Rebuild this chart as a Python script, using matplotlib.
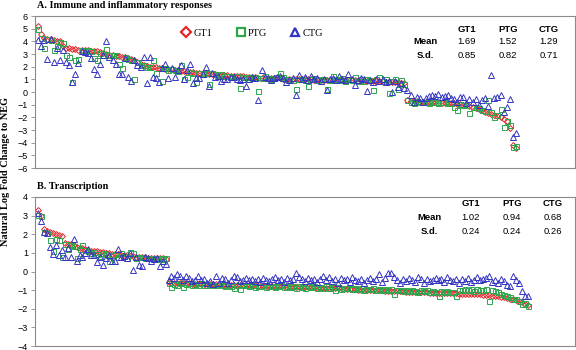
import matplotlib
matplotlib.use("Agg")
import matplotlib.pyplot as plt
from matplotlib.lines import Line2D
import numpy as np

# ---- panel A: immune and inflammatory responses ----
gt1_a = [5.20, 4.55, 4.30, 4.20, 4.15, 4.10, 4.05, 4.00, 3.62, 3.50,
         3.45, 3.40, 3.38, 3.35, 3.32, 3.30, 3.28, 3.25, 3.22, 3.20,
         3.15, 3.10, 3.02, 2.95, 2.92, 2.88, 2.85, 2.80, 2.75, 2.70,
         2.60, 2.50, 2.35, 2.20, 2.10, 2.02, 1.98, 1.95, 1.94, 1.92,
         1.90, 1.85, 1.82, 1.80, 1.76, 1.70, 1.65, 1.62, 1.60, 1.57,
         1.55, 1.52, 1.50, 1.48, 1.46, 1.44, 1.42, 1.40, 1.38, 1.36,
         1.34, 1.32, 1.30, 1.29, 1.27, 1.25, 1.23, 1.21, 1.19, 1.17,
         1.15, 1.14, 1.13, 1.12, 1.11, 1.10, 1.09, 1.08, 1.07, 1.06,
         1.05, 1.04, 1.03, 1.02, 1.01, 1.00, 1.00, 0.99, 0.99, 0.98,
         0.98, 0.97, 0.97, 0.96, 0.96, 0.95, 0.95, 0.94, 0.94, 0.93,
         0.92, 0.92, 0.91, 0.90, 0.90, 0.89, 0.88, 0.87, 0.86, 0.85,
         0.84, 0.83, 0.82, 0.81, 0.80, 0.79, 0.78, 0.75, 0.70,
         -0.65, -0.70, -0.72, -0.74, -0.76, -0.78, -0.79, -0.80, -0.81, -0.82,
         -0.83, -0.84, -0.85, -0.86, -0.88, -0.90, -0.93, -0.96, -1.00, -1.05,
         -1.10, -1.15, -1.25, -1.35, -1.45, -1.55, -1.65, -1.72, -1.80, -1.90,
         -2.00, -2.15, -2.30, -2.85, -4.20, -4.40]

ptg_a = [5.00, 4.30, 3.45, 4.20, 4.10, 3.30, 3.60, 3.95, 3.90, 2.90,
         2.80, 0.80, 2.50, 2.60, 3.30, 3.25, 3.30, 3.20, 2.70, 2.50,
         3.05, 2.90, 3.40, 2.95, 2.90, 2.90, 2.20, 1.90, 2.80, 2.60,
         2.50, 1.00, 2.40, 2.10, 2.15, 2.00, 1.95, 2.50, 1.50, 1.90,
         0.90, 1.90, 1.75, 1.80, 1.70, 1.65, 2.10, 1.00, 1.20, 1.60,
         1.50, 0.80, 1.50, 1.45, 1.50, 0.60, 1.50, 1.40, 1.35, 1.40,
         1.30, 1.25, 1.20, 1.30, 1.25, 0.30, 1.20, 1.15, 1.20, 1.10,
         1.15, 0.10, 1.10, 1.30, 1.10, 1.05, 1.10, 1.20, 1.50, 1.20,
         1.05, 1.00, 0.95, 0.20, 1.00, 1.05, 0.95, 0.50, 1.00, 1.10,
         0.95, 1.00, 1.05, 0.20, 0.95, 1.30, 1.00, 0.95, 1.10, 0.90,
         1.00, 0.95, 1.15, 0.90, 1.05, 0.85, 1.00, 0.95, 0.15, 1.00,
         1.20, 0.90, 1.05, -0.05, 0.90, 1.00, 0.20, 0.95, 0.60,
         -0.60, -0.75, -0.90, -0.70, -0.75, -0.80, -0.78, -0.90, -0.80, -0.82,
         -0.85, -0.80, -0.78, -0.90, -0.85, -1.16, -1.42, -0.95, -1.00, -1.05,
         -1.68, -1.15, -1.20, -1.30, -1.40, -1.50, -0.63, -1.60, -1.95, -1.80,
         -1.37, -2.74, -2.30, -2.60, -4.35, -4.25]

ctg_a = [4.10, 3.60, 4.10, 2.60, 4.15, 2.40, 3.50, 2.50, 3.30, 2.40,
         2.10, 0.80, 1.40, 2.30, 3.20, 3.15, 3.10, 2.70, 1.80, 1.40,
         2.20, 2.90, 4.00, 2.80, 2.50, 2.20, 1.40, 1.40, 2.70, 1.20,
         0.85, 2.50, 2.10, 2.00, 2.80, 0.75, 2.80, 1.20, 1.10, 0.80,
         1.90, 2.20, 1.10, 1.90, 1.20, 1.70, 2.10, 1.00, 1.70, 2.20,
         0.70, 1.10, 1.10, 1.45, 2.00, 0.50, 1.50, 1.20, 1.30, 0.90,
         1.00, 1.05, 1.20, 1.20, 1.00, 0.95, 1.00, 0.50, 1.00, 1.15,
         1.10, -0.60, 1.70, 1.20, 1.10, 0.95, 1.10, 1.20, 1.30, 1.10,
         0.80, 0.95, 1.10, -0.24, 1.34, 1.05, 1.20, 0.95, 1.26, 1.00,
         1.10, 0.90, 1.05, 0.16, 1.00, 1.10, 0.95, 1.26, 1.05, 0.95,
         1.42, 1.00, 0.55, 0.95, 1.10, 1.03, 0.08, 0.95, 0.80, 1.00,
         0.90, 1.05, 0.80, 0.90, 0.00, 0.85, 0.40, 0.70, 0.30,
         0.16, -0.24, -0.77, -0.40, -0.50, -0.77, -0.45, -0.32, -0.24, -0.32,
         -0.18, -0.37, -0.32, -0.24, -0.50, -0.58, -0.77, -0.40, -0.42, -0.90,
         -0.55, -0.77, -0.58, -1.03, -0.63, -0.50, -1.10, 1.34, -0.50, -0.42,
         -0.24, -1.55, -1.16, -0.58, -3.55, -3.24]

# ---- panel B: transcription ----
gt1_b = [3.30, 3.00, 2.30, 2.20, 2.12, 2.05, 2.00, 1.95, 1.90, 1.55,
         1.50, 1.45, 1.40, 1.32, 1.28, 1.25, 1.20, 1.16, 1.12, 1.10,
         1.08, 1.05, 1.03, 1.00, 0.98, 0.96, 0.94, 0.92, 0.90, 0.88,
         0.86, 0.84, 0.82, 0.80, 0.78, 0.77, 0.76, 0.75, 0.74, 0.73,
         0.72, 0.71, 0.70, 0.69,
         -0.58, -0.60, -0.61, -0.62, -0.63, -0.63, -0.64, -0.64, -0.65, -0.65,
         -0.66, -0.66, -0.67, -0.67, -0.68, -0.68, -0.69, -0.69, -0.70, -0.70,
         -0.71, -0.71, -0.72, -0.72, -0.73, -0.73, -0.74, -0.74, -0.75, -0.75,
         -0.76, -0.76, -0.77, -0.77, -0.78, -0.78, -0.79, -0.79, -0.80, -0.80,
         -0.81, -0.81, -0.82, -0.82, -0.83, -0.83, -0.84, -0.84, -0.85, -0.85,
         -0.86, -0.86, -0.87, -0.87, -0.88, -0.88, -0.89, -0.90, -0.91, -0.92,
         -0.93, -0.94, -0.95, -0.96, -0.97, -0.97, -0.98, -0.98, -0.99, -0.99,
         -1.00, -1.01, -1.02, -1.03, -1.04, -1.05, -1.06, -1.06, -1.07, -1.07,
         -1.08, -1.08, -1.09, -1.09, -1.10, -1.10, -1.11, -1.12, -1.13, -1.14,
         -1.15, -1.15, -1.16, -1.16, -1.17, -1.17, -1.18, -1.18, -1.19, -1.19,
         -1.20, -1.20, -1.21, -1.21, -1.22, -1.23, -1.24, -1.25, -1.27, -1.29,
         -1.31, -1.33, -1.36, -1.39, -1.42, -1.46, -1.50, -1.55, -1.60, -1.66,
         -1.72, -1.78]

ptg_b = [3.05, 3.00, 2.10, 2.05, 1.70, 1.10, 1.75, 1.70, 0.80, 1.50,
         1.20, 1.40, 1.35, 0.70, 1.20, 1.40, 1.15, 1.10, 1.00, 1.05,
         0.95, 0.85, 1.00, 0.95, 0.55, 0.90, 0.95, 0.80, 1.00, 0.85,
         0.75, 1.05, 1.00, 0.75, 0.80, 0.80, 0.70, 0.75, 0.72, 0.75,
         0.68, 0.70, 0.65, 0.75,
         -0.60, -0.83, -0.65, -0.70, -0.62, -0.83, -0.66, -0.60, -0.70, -0.68,
         -0.72, -0.64, -0.70, -0.75, -0.66, -0.70, -0.74, -0.68, -0.72, -0.78,
         -0.70, -0.76, -0.88, -0.72, -0.94, -0.74, -0.70, -0.78, -0.72, -0.83,
         -0.76, -0.80, -0.74, -0.82, -0.78, -0.76, -0.84, -0.80, -0.75, -0.82,
         -0.78, -0.84, -0.80, -0.86, -0.76, -0.82, -0.88, -0.80, -0.84, -0.78,
         -0.86, -0.82, -0.88, -0.80, -0.90, -0.85, -1.00, -0.84, -0.92, -0.88,
         -0.90, -0.86, -0.96, -0.90, -0.94, -0.88, -0.98, -0.92, -0.96, -0.90,
         -0.98, -0.94, -1.00, -0.96, -1.02, -0.95, -1.19, -1.00, -0.98, -1.04,
         -1.00, -1.06, -0.98, -1.04, -1.08, -1.02, -1.06, -1.00, -1.10, -1.04,
         -1.08, -1.30, -1.06, -1.10, -1.04, -1.12, -1.08, -1.33, -1.02, -0.98,
         -0.96, -1.00, -0.94, -1.05, -0.96, -0.98, -1.02, -0.95, -1.57, -1.00,
         -1.05, -1.10, -1.20, -1.25, -1.30, -1.35, -1.45, -1.50, -1.60, -1.73,
         -1.70, -1.84]

ctg_b = [3.15, 2.70, 2.10, 2.05, 1.30, 0.95, 1.40, 0.90, 1.15, 0.80,
         1.25, 0.80, 1.75, 0.55, 0.90, 0.80, 1.00, 1.20, 0.90, 0.90,
         0.50, 0.80, 0.35, 0.75, 0.90, 0.55, 0.55, 1.20, 0.80, 0.85,
         0.75, 1.00, 0.10, 0.80, 0.35, 0.30, 0.80, 0.70, 0.55, 0.65,
         0.70, 0.30, 0.55, 0.40,
         -0.43, -0.25, -0.35, -0.16, -0.25, -0.43, -0.22, -0.34, -0.52, -0.43,
         -0.25, -0.43, -0.40, -0.60, -0.52, -0.65, -0.22, -0.60, -0.34, -0.40,
         -0.60, -0.43, -0.25, -0.30, -0.52, -0.43, -0.34, -0.45, -0.38, -0.50,
         -0.40, -0.55, -0.35, -0.45, -0.50, -0.42, -0.30, -0.48, -0.40, -0.55,
         -0.34, -0.45, -0.38, -0.10, -0.30, -0.42, -0.50, -0.36, -0.44, -0.40,
         -0.55, -0.38, -0.22, -0.46, -0.30, -0.50, -0.42, -0.62, -0.35, -0.48,
         -0.40, -0.55, -0.28, -0.45, -0.52, -0.38, -0.60, -0.44, -0.36, -0.50,
         -0.42, -0.12, -0.55, -0.35, -0.08, -0.08, -0.30, -0.48, -0.62, -0.40,
         -0.50, -0.36, -0.45, -0.55, -0.32, -0.42, -0.60, -0.38, -0.50, -0.44,
         -0.35, -0.48, -0.40, -0.55, -0.30, -0.46, -0.52, -0.38, -0.60, -0.42,
         -0.50, -0.36, -0.55, -0.45, -0.32, -0.48, -0.40, -0.35, -0.25, -0.55,
         -0.45, -0.60, -0.40, -0.50, -0.70, -0.80, -0.25, -0.45, -0.60, -1.06,
         -1.30, -1.33]

series = ["GT1", "PTG", "CTG"]
stats_a = {"Mean": ["1.69", "1.52", "1.29"], "S.d.": ["0.85", "0.82", "0.71"]}
stats_b = {"Mean": ["1.02", "0.94", "0.68"], "S.d.": ["0.24", "0.24", "0.26"]}

RED = "#e2282a"
GREEN = "#2ea64e"
BLUE = "#3434c4"
GREY = "#8a8a8a"
SERIF = "Liberation Serif"
SANS = "Liberation Sans"

W, H = 576, 350
fig = plt.figure(figsize=(W / 100, H / 100), dpi=100)


def px_ax(l, t, r, b):
    return fig.add_axes([l / W, 1 - b / H, (r - l) / W, (b - t) / H])


def draw_panel(ax, gt1, ptg, ctg, ylim, xmax):
    x = np.arange(1, len(gt1) + 1)
    ax.plot(x, gt1, ls="none", marker="D", ms=3.0, mfc="none", mec=RED, mew=0.7)
    ax.plot(x, ptg, ls="none", marker="s", ms=3.6, mfc="none", mec=GREEN, mew=0.7)
    ax.plot(x, ctg, ls="none", marker="^", ms=3.8, mfc="none", mec=BLUE, mew=0.7)
    ax.set_xlim(0, xmax)
    ax.set_ylim(*ylim)
    ax.set_yticks(range(ylim[0], ylim[1] + 1))
    ax.set_xticks([])
    ax.tick_params(axis="y", length=3, width=0.6, color=GREY, pad=2, labelsize=6.5)
    for lab in ax.get_yticklabels():
        lab.set_fontfamily(SANS)
    for s in ax.spines.values():
        s.set_color(GREY)
        s.set_linewidth(0.8)


def draw_stats(stats, xs, x_row, ys):
    for name, xx in zip(series, xs):
        fig.text(xx / W, 1 - ys[0] / H, name, ha="center", va="center",
                 fontsize=6.8, fontweight="bold", family=SANS)
    for (row, vals), yy in zip(stats.items(), ys[1:]):
        fig.text(x_row / W, 1 - yy / H, row, ha="center", va="center",
                 fontsize=6.8, fontweight="bold", family=SANS)
        for v, xx in zip(vals, xs):
            fig.text(xx / W, 1 - yy / H, v, ha="center", va="center",
                     fontsize=6.8, family=SANS)


ax_a = px_ax(35, 16, 575, 168)
draw_panel(ax_a, gt1_a, ptg_a, ctg_a, (-6, 6), 174)
ax_b = px_ax(35, 197, 575, 346)
draw_panel(ax_b, gt1_b, ptg_b, ctg_b, (-4, 4), 182)

fig.text(37 / W, 1 - 5 / H, "A. Immune and inflammatory responses", ha="left",
         va="center", fontsize=7.3, fontweight="bold", family=SERIF)
fig.text(37 / W, 1 - 186 / H, "B. Transcription", ha="left",
         va="center", fontsize=7.3, fontweight="bold", family=SERIF)
fig.text(6 / W, 1 - 172 / H, "Natural Log Fold Change to NEG", rotation=90,
         ha="center", va="center", fontsize=7.4, fontweight="bold", family=SERIF)

draw_stats(stats_a, [467, 508, 549], 425, [29, 42, 55])
draw_stats(stats_b, [471, 512, 553], 429, [204, 218, 231])

handles = [Line2D([], [], ls="none", marker="D", ms=5, mfc="none", mec=RED, mew=1.6),
           Line2D([], [], ls="none", marker="s", ms=6, mfc="none", mec=GREEN, mew=1.6),
           Line2D([], [], ls="none", marker="^", ms=6, mfc="none", mec=BLUE, mew=1.6)]
fig.legend(handles, series, loc="center left", bbox_to_anchor=(176 / W, 1 - 33 / H),
           ncol=3, frameon=False, handlelength=1.0, handletextpad=0.2,
           columnspacing=2.2, borderpad=0, prop={"family": SERIF, "size": 7.5})

fig.savefig("out.png", dpi=100)
